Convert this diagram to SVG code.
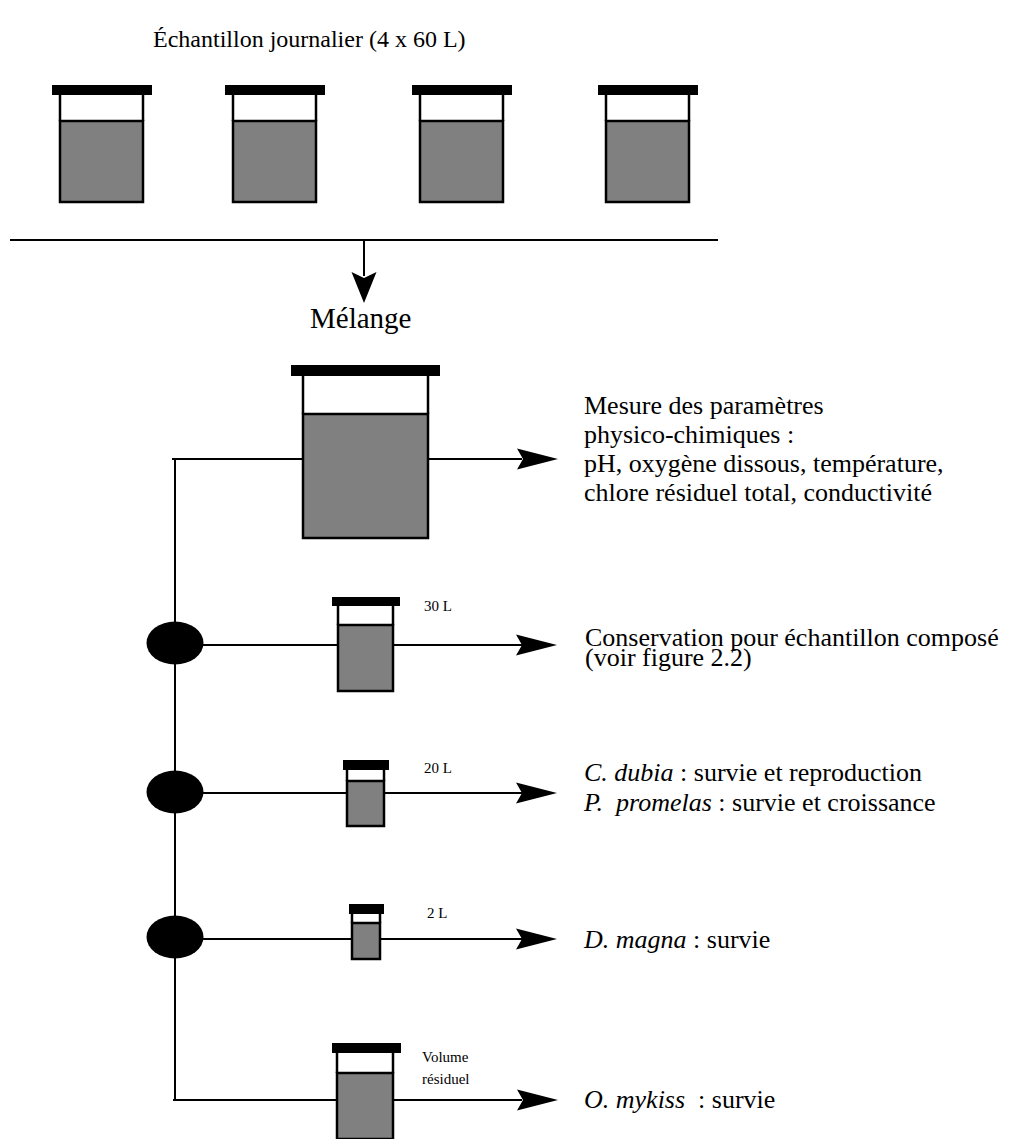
<svg xmlns="http://www.w3.org/2000/svg" width="1016" height="1139" viewBox="0 0 1016 1139" font-family="'Liberation Serif', 'DejaVu Serif', serif">
<style>
text { font-family: 'Liberation Serif', 'DejaVu Serif', serif; fill: #000; }
.t24 { font-size: 24px; }
.t29 { font-size: 29px; }
.t26 { font-size: 26px; }
.t15 { font-size: 15px; }
.i { font-style: italic; }
.line { stroke: #000; stroke-width: 2; fill: none; }
.liq { fill: #808080; stroke: #000; stroke-width: 2.5; }
.side { stroke: #000; stroke-width: 2.5; fill: none; }
.lid { fill: #000; }
.head { fill: #000; }
.dot { fill: #000; }
</style>
<rect width="1016" height="1139" fill="#fff"/>

<text id="title" class="t24" font-family="Liberation Serif" x="153" y="47">Échantillon journalier (4 x 60 L)</text>

<g id="connectors">
  <line class="line" x1="10" y1="240" x2="718" y2="240"/>
  <line class="line" x1="364" y1="240" x2="364" y2="276"/>
  <polygon class="head" points="364,303 351.5,272 364,278 376.5,272"/>
  <line class="line" x1="172" y1="459" x2="522" y2="459"/>
  <polygon class="head" points="558,459 517,448.5 523,459 517,469.5"/>
  <line class="line" x1="175" y1="459" x2="175" y2="1100"/>
  <line class="line" x1="175" y1="645" x2="522" y2="645"/>
  <polygon class="head" points="557,645 516,634.5 522,645 516,655.5"/>
  <line class="line" x1="175" y1="793" x2="522" y2="793"/>
  <polygon class="head" points="557,793 516,782.5 522,793 516,803.5"/>
  <line class="line" x1="175" y1="939" x2="522" y2="939"/>
  <polygon class="head" points="557,939 516,928.5 522,939 516,949.5"/>
  <line class="line" x1="173" y1="1100" x2="522" y2="1100"/>
  <polygon class="head" points="558,1100 517,1089.5 523,1100 517,1110.5"/>
</g>

<g id="bucket1">
  <rect class="lid" x="52" y="85" width="100" height="10"/>
  <line class="side" x1="60" y1="95" x2="60" y2="121"/>
  <line class="side" x1="143" y1="95" x2="143" y2="121"/>
  <rect class="liq" x="60" y="121" width="83" height="81"/>
</g>
<g id="bucket2">
  <rect class="lid" x="225" y="85" width="100" height="10"/>
  <line class="side" x1="233" y1="95" x2="233" y2="121"/>
  <line class="side" x1="316" y1="95" x2="316" y2="121"/>
  <rect class="liq" x="233" y="121" width="83" height="81"/>
</g>
<g id="bucket3">
  <rect class="lid" x="412" y="85" width="100" height="10"/>
  <line class="side" x1="420" y1="95" x2="420" y2="121"/>
  <line class="side" x1="503" y1="95" x2="503" y2="121"/>
  <rect class="liq" x="420" y="121" width="83" height="81"/>
</g>
<g id="bucket4">
  <rect class="lid" x="598" y="85" width="100" height="10"/>
  <line class="side" x1="606" y1="95" x2="606" y2="121"/>
  <line class="side" x1="689" y1="95" x2="689" y2="121"/>
  <rect class="liq" x="606" y="121" width="83" height="81"/>
</g>

<text id="melange" class="t29" font-family="Liberation Serif" x="310" y="328">Mélange</text>

<g id="mix-container">
  <rect class="lid" x="291" y="365" width="149" height="11"/>
  <line class="side" x1="303" y1="376" x2="303" y2="414"/>
  <line class="side" x1="428" y1="376" x2="428" y2="414"/>
  <rect class="liq" x="303" y="414" width="125" height="124"/>
</g>

<g id="split1"><ellipse class="dot" cx="175" cy="643" rx="28.5" ry="21.5"/></g>
<g id="split2"><ellipse class="dot" cx="175" cy="792" rx="28.5" ry="21.5"/></g>
<g id="split3"><ellipse class="dot" cx="175" cy="937" rx="28.5" ry="21.5"/></g>

<g id="c30" font-family="Liberation Serif">
  <rect class="lid" x="332" y="597" width="68" height="9"/>
  <line class="side" x1="338" y1="606" x2="338" y2="625"/>
  <line class="side" x1="393" y1="606" x2="393" y2="625"/>
  <rect class="liq" x="338" y="625" width="55" height="66"/>
  <text class="t15" x="424" y="611">30 L</text>
</g>
<g id="c20" font-family="Liberation Serif">
  <rect class="lid" x="343" y="760" width="46" height="10"/>
  <line class="side" x1="347" y1="770" x2="347" y2="781"/>
  <line class="side" x1="384" y1="770" x2="384" y2="781"/>
  <rect class="liq" x="347" y="781" width="37" height="45"/>
  <text class="t15" x="424" y="773">20 L</text>
</g>
<g id="c2" font-family="Liberation Serif">
  <rect class="lid" x="349" y="904" width="35" height="10"/>
  <line class="side" x1="352" y1="914" x2="352" y2="923"/>
  <line class="side" x1="380" y1="914" x2="380" y2="923"/>
  <rect class="liq" x="352" y="923" width="28" height="36"/>
  <text class="t15" x="427" y="918">2 L</text>
</g>
<g id="cres" font-family="Liberation Serif">
  <rect class="lid" x="332" y="1043" width="69" height="10"/>
  <line class="side" x1="337" y1="1053" x2="337" y2="1073"/>
  <line class="side" x1="393" y1="1053" x2="393" y2="1073"/>
  <rect class="liq" x="337" y="1073" width="56" height="66"/>
  <text class="t15" x="422" y="1062">Volume</text>
  <text class="t15" x="422" y="1084">résiduel</text>
</g>

<g id="label-mesure" class="t26" font-family="Liberation Serif">
  <text x="584" y="414">Mesure des paramètres</text>
  <text x="584" y="443">physico-chimiques :</text>
  <text x="584" y="472">pH, oxygène dissous, température,</text>
  <text x="584" y="501">chlore résiduel total, conductivité</text>
</g>
<g id="label-conservation" class="t26" font-family="Liberation Serif">
  <text x="585" y="646">Conservation pour échantillon composé</text>
  <text x="585" y="666">(voir figure 2.2)</text>
</g>
<g id="label-dubia" class="t26" font-family="Liberation Serif">
  <text x="584" y="781"><tspan class="i">C. dubia</tspan> : survie et reproduction</text>
  <text x="584" y="811"><tspan class="i">P.</tspan><tspan class="i" dx="13">promelas</tspan> : survie et croissance</text>
</g>
<g id="label-magna" class="t26" font-family="Liberation Serif">
  <text x="584" y="948"><tspan class="i">D. magna</tspan> : survie</text>
</g>
<g id="label-mykiss" class="t26" font-family="Liberation Serif">
  <text x="584" y="1108"><tspan class="i">O. mykiss</tspan><tspan dx="6.5"> : survie</tspan></text>
</g>
</svg>
